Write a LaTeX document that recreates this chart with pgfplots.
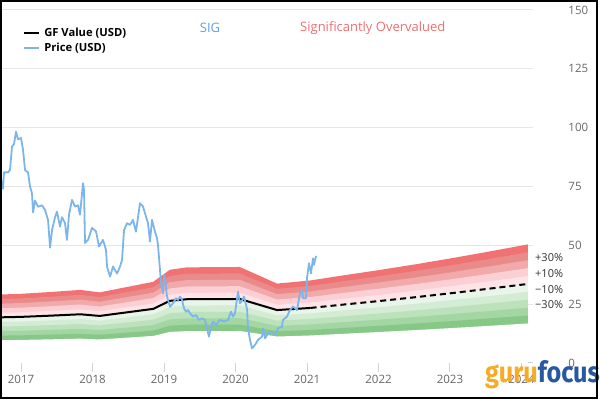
\documentclass[border=0pt]{standalone}
\usepackage{fontspec}
\setmainfont{Open Sans}
\newfontfamily\logofont{Fira Sans}
\usepackage{pgfplots}
\pgfplotsset{compat=1.18}
\usepackage{pgfplotstable}

\definecolor{priceblue}{HTML}{7CB5EC}
\definecolor{rA}{HTML}{F07272}
\definecolor{rB}{HTML}{E98B8B}
\definecolor{rC}{HTML}{F2A9A9}
\definecolor{rD}{HTML}{FBCFD3}
\definecolor{rE}{HTML}{FFE3E6}
\definecolor{gE}{HTML}{E8F5E8}
\definecolor{gD}{HTML}{D3ECD3}
\definecolor{gC}{HTML}{BCE2BC}
\definecolor{gB}{HTML}{A3D6A3}
\definecolor{gA}{HTML}{86C986}
\definecolor{tickc}{HTML}{666666}
\definecolor{axisc}{HTML}{C8D4E4}
\definecolor{gridc}{HTML}{E6E6E6}
\definecolor{sigblue}{HTML}{5E9EE8}
\definecolor{overred}{HTML}{EE6E6E}
\definecolor{guruorange}{HTML}{F7A81B}
\definecolor{focusblue}{HTML}{1E4F9C}

% GF Value, whole span (for the bands)
\pgfplotstableread{
t v
2016.706 19.4
2017.0 19.6
2017.4 20.1
2017.83 20.7
2018.1 20.0
2018.5 21.6
2018.85 23.0
2019.08 26.4
2019.32 27.1
2020.06 27.2
2020.58 22.5
2020.9 23.1
2021.05 23.4
2021.5 24.8
2022.0 26.3
2022.5 27.9
2023.0 29.6
2023.5 31.4
2024.09 33.6
}\gfall

\pgfplotstableread{
t v
2016.706 19.4
2017.0 19.6
2017.4 20.1
2017.83 20.7
2018.1 20.0
2018.5 21.6
2018.85 23.0
2019.08 26.4
2019.32 27.1
2020.06 27.2
2020.58 22.5
2020.9 23.1
2021.05 23.4
}\gfhist

\pgfplotstableread{
t v
2021.05 23.4
2021.5 24.8
2022.0 26.3
2022.5 27.9
2023.0 29.6
2023.5 31.4
2024.09 33.6
}\gffut

\pgfplotstableread{
t p
2016.706 80
2016.748 74
2016.762 81
2016.818 81
2016.846 82
2016.874 92
2016.902 93
2016.930 98.3
2016.958 95
2017.000 95.6
2017.028 90.6
2017.056 82
2017.098 81
2017.126 75
2017.154 72
2017.168 64
2017.196 69
2017.238 66.4
2017.294 67
2017.336 65
2017.378 60.8
2017.406 49
2017.434 56.5
2017.476 62
2017.503 64.3
2017.545 58
2017.573 62
2017.615 59.4
2017.643 52.3
2017.671 63
2017.713 69.3
2017.755 66.5
2017.797 67
2017.825 63
2017.867 76.4
2017.881 73.6
2017.895 51
2017.937 52.3
2017.993 57.4
2018.049 55.9
2018.091 49.5
2018.147 52.3
2018.189 48
2018.203 41
2018.245 36.7
2018.287 41
2018.343 38
2018.385 41
2018.413 43.8
2018.441 56.5
2018.483 59.4
2018.524 58.7
2018.566 60.8
2018.608 55.8
2018.664 67.9
2018.706 66.5
2018.748 62.2
2018.776 59.4
2018.804 51.6
2018.832 60.8
2018.874 55.8
2018.902 53
2018.916 50
2018.944 39.5
2018.958 33.9
2018.986 29.6
2019.000 37.4
2019.014 36
2019.042 28.2
2019.084 23.9
2019.126 25.4
2019.168 27.5
2019.196 26.8
2019.224 28.2
2019.252 26.8
2019.280 23.2
2019.308 21.8
2019.336 22.5
2019.364 21.1
2019.406 19.7
2019.448 20.4
2019.490 18.3
2019.531 19
2019.573 18.3
2019.601 14.7
2019.629 11.2
2019.657 15.4
2019.685 17.6
2019.727 16.2
2019.783 18.3
2019.839 17.6
2019.895 18.3
2019.937 21.8
2019.965 19.7
2019.993 21.1
2020.035 30.3
2020.063 25.4
2020.091 26.5
2020.119 28.2
2020.161 23
2020.175 14.7
2020.203 9.8
2020.231 6.2
2020.273 7.7
2020.315 9.8
2020.371 11.2
2020.385 14.7
2020.413 10.5
2020.455 12.6
2020.510 13.3
2020.552 11.9
2020.594 14.7
2020.650 15.4
2020.664 18.3
2020.720 19.7
2020.762 22.5
2020.804 24
2020.860 22.5
2020.902 29.6
2020.930 31
2020.944 27.5
2020.986 27.5
2021.000 36
2021.028 42.4
2021.056 38.1
2021.084 44.5
2021.098 41.7
2021.126 45.5
}\price

\begin{document}
\begin{tikzpicture}
\path[use as bounding box] (0pt,0pt) rectangle (600pt,420pt);
\begin{axis}[
  at={(0pt,57pt)}, anchor=south west,
  scale only axis, width=533pt, height=353pt,
  xmin=2016.706, xmax=2024.161, ymin=0, ymax=150,
  axis x line*=bottom, axis y line*=right,
  y axis line style={draw=none},
  x axis line style={color=axisc, line width=1pt},
  xtick={2017,2018,2019,2020,2021,2022,2023,2024},
  xticklabels={2017,2018,2019,2020,2021,2022,2023,2024},
  x tick style={color=axisc, line width=1pt},
  tick align=outside,
  major tick length=9pt,
  ytick={0,25,50,75,100,125,150},
  y tick style={draw=none},
  ymajorgrids,
  grid style={color=gridc, line width=1pt},
  /pgf/number format/assume math mode=true,
  xticklabel style={font=\fontsize{11.5}{12}\selectfont, text=tickc},
  yticklabel style={font=\fontsize{11.5}{12}\selectfont, text=tickc, anchor=west, xshift=23pt},
  legend style={at={(axis description cs:0.043,0.955)}, anchor=north west, draw=none, fill=none,
    font=\bfseries\fontsize{11.2}{13}\selectfont, row sep=1pt, inner sep=0pt,
    nodes={inner xsep=4pt}},
  legend cell align=left,
  legend image code/.code={\draw[#1, line width=2.2pt, solid] (0pt,0pt) -- (15pt,0pt);},
]
% bands: stacked from the top factor down, each filled to the x axis
\addplot[fill=rA, draw=none, forget plot] table[x=t, y expr=1.5*\thisrow{v}] {\gfall} \closedcycle;
\addplot[fill=rB, draw=none, forget plot] table[x=t, y expr=1.4*\thisrow{v}] {\gfall} \closedcycle;
\addplot[fill=rC, draw=none, forget plot] table[x=t, y expr=1.3*\thisrow{v}] {\gfall} \closedcycle;
\addplot[fill=rD, draw=none, forget plot] table[x=t, y expr=1.2*\thisrow{v}] {\gfall} \closedcycle;
\addplot[fill=rE, draw=none, forget plot] table[x=t, y expr=1.1*\thisrow{v}] {\gfall} \closedcycle;
\addplot[fill=gE, draw=none, forget plot] table[x=t, y expr=1.0*\thisrow{v}] {\gfall} \closedcycle;
\addplot[fill=gD, draw=none, forget plot] table[x=t, y expr=0.9*\thisrow{v}] {\gfall} \closedcycle;
\addplot[fill=gC, draw=none, forget plot] table[x=t, y expr=0.8*\thisrow{v}] {\gfall} \closedcycle;
\addplot[fill=gB, draw=none, forget plot] table[x=t, y expr=0.7*\thisrow{v}] {\gfall} \closedcycle;
\addplot[fill=gA, draw=none, forget plot] table[x=t, y expr=0.6*\thisrow{v}] {\gfall} \closedcycle;
\addplot[fill=white, draw=none, forget plot] table[x=t, y expr=0.5*\thisrow{v}] {\gfall} \closedcycle;
% GF value
\addplot[black, line width=2pt] table[x=t, y=v] {\gfhist};
\addlegendentry{GF Value (USD)}
\addplot[black, line width=2pt, dash pattern=on 6pt off 4pt, forget plot] table[x=t, y=v] {\gffut};
% price
\addplot[priceblue, line width=1.8pt, line join=round] table[x=t, y=p] {\price};
\addlegendentry{Price (USD)}
\coordinate (L30) at (rel axis cs:1,0.2973);
\coordinate (L10) at (rel axis cs:1,0.2547);
\coordinate (M10) at (rel axis cs:1,0.2093);
\coordinate (M30) at (rel axis cs:1,0.1667);
\end{axis}
% band labels
\begin{scope}[every node/.style={anchor=west, font=\fontsize{11}{12}\selectfont, text=black!80, inner sep=0pt, xshift=2pt}]
\node at (L30) {+30\%};
\node at (L10) {+10\%};
\node at (M10) {−10\%};
\node at (M30) {−30\%};
\end{scope}
% titles
\node[text=sigblue, font=\fontsize{13}{14}\selectfont] at (210pt,392pt) {SIG};
\node[text=overred, font=\fontsize{13}{14}\selectfont, anchor=west, inner sep=0pt] at (300pt,392pt) {Significantly Overvalued};
% logo
\node[anchor=base west, inner sep=0pt, xscale=0.87, opacity=0.95] at (485pt,37pt)
  {\logofont\bfseries\fontsize{29}{30}\selectfont\textcolor{guruorange}{guru}\textcolor{focusblue}{focus}};
% frame
\draw[black, line width=2pt] (1pt,22pt) rectangle (597pt,419pt);
\end{tikzpicture}
\end{document}
